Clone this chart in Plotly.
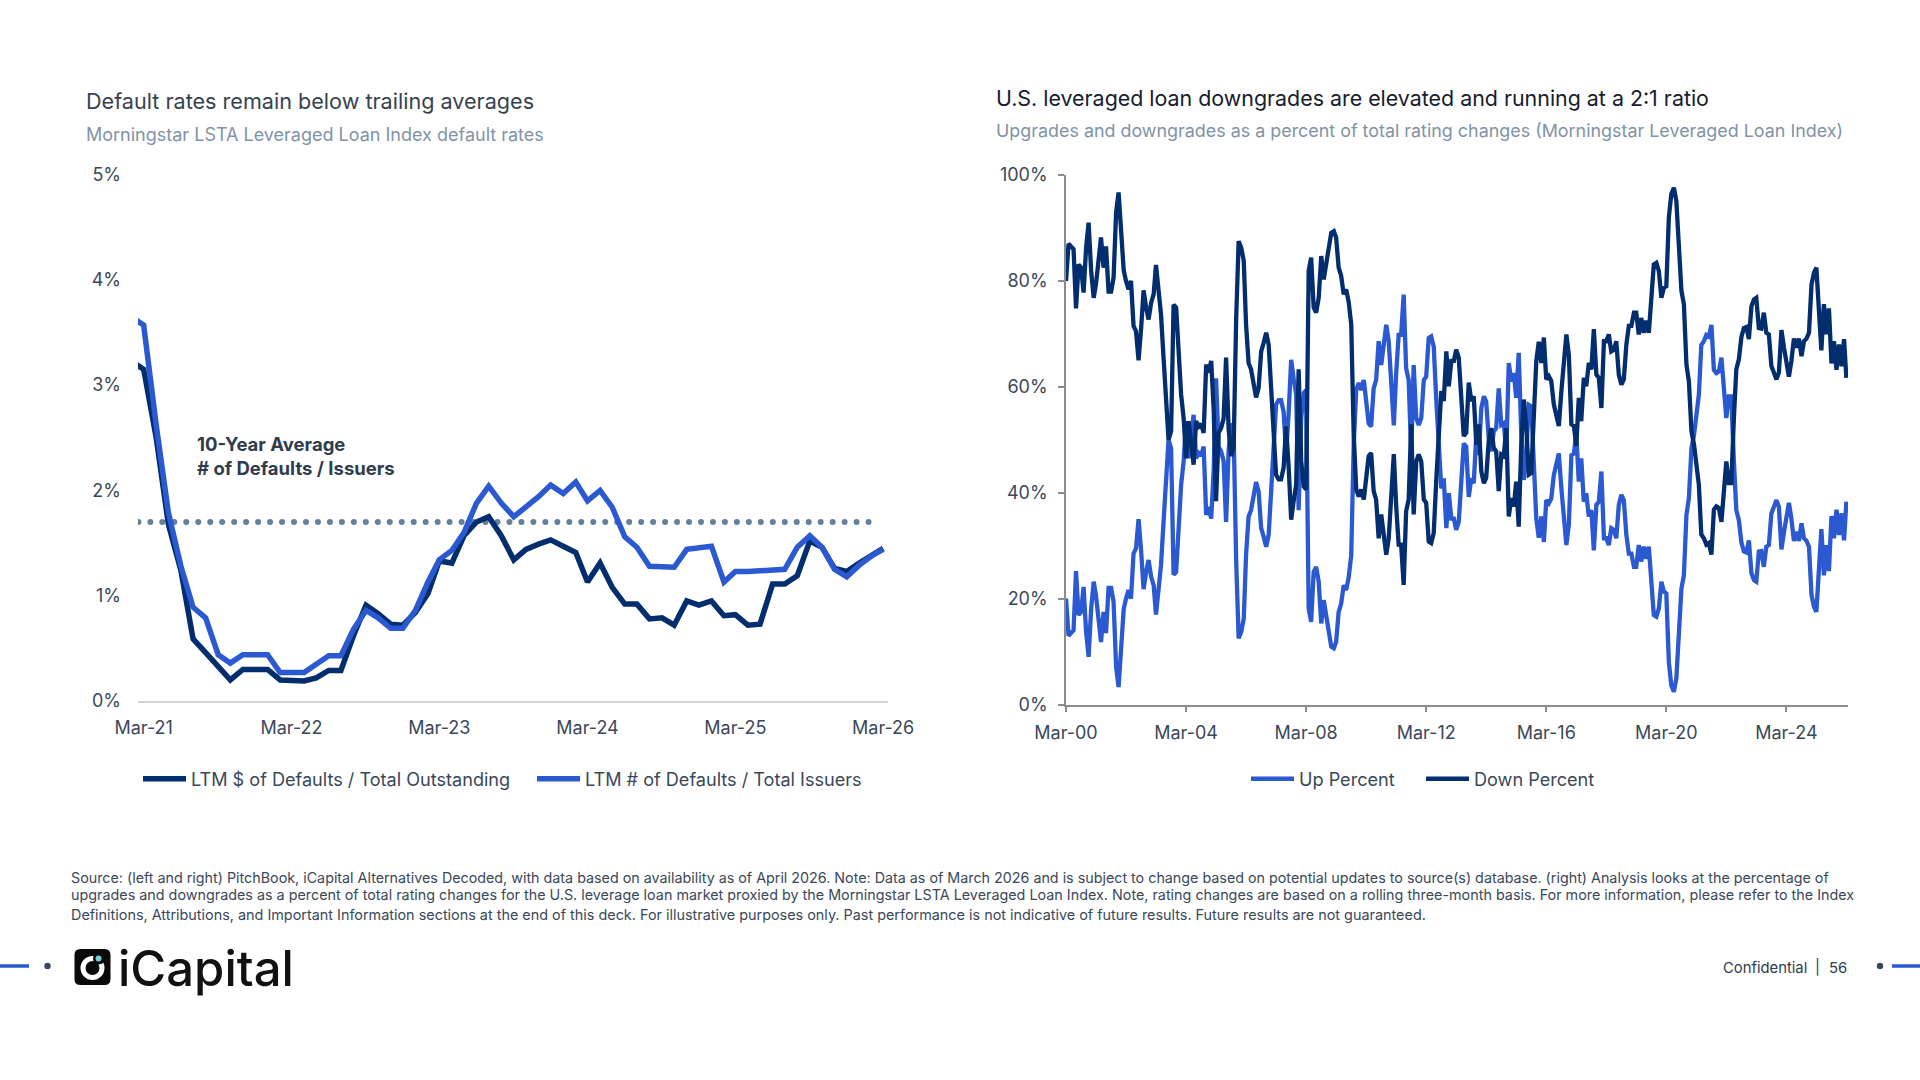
import pandas as pd
import plotly.graph_objects as go

# left chart, Feb-21 to Mar-26 (first point sits just off the axis)
left_dates = pd.date_range("2021-02-01", "2026-03-01", freq="MS")
dollar_defaults = [3.22, 3.15, 2.5, 1.68, 1.24, 0.59, 0.46, 0.33, 0.2, 0.3, 0.3, 0.3, 0.2, 0.19, 0.19, 0.22, 0.29, 0.29,
                   0.62, 0.91, 0.83, 0.73, 0.72, 0.84, 1.02, 1.33, 1.31, 1.57, 1.7, 1.75, 1.57, 1.34, 1.44, 1.49, 1.53,
                   1.47, 1.41, 1.13, 1.31, 1.08, 0.92, 0.92, 0.78, 0.79, 0.72, 0.95, 0.91, 0.95, 0.81, 0.82, 0.72, 0.73,
                   1.11, 1.11, 1.19, 1.52, 1.46, 1.26, 1.23, 1.31, 1.39, 1.45]
issuer_defaults = [3.64, 3.57, 2.62, 1.79, 1.28, 0.89, 0.79, 0.44, 0.36, 0.44, 0.44, 0.44, 0.27, 0.27, 0.27, 0.35, 0.43, 0.43,
                   0.68, 0.86, 0.79, 0.69, 0.69, 0.86, 1.13, 1.34, 1.43, 1.6, 1.88, 2.04, 1.88, 1.75, 1.84, 1.94, 2.05,
                   1.97, 2.08, 1.9, 2.0, 1.84, 1.56, 1.46, 1.28, 1.27, 1.27, 1.44, 1.46, 1.47, 1.13, 1.23, 1.23, 1.24,
                   1.25, 1.25, 1.46, 1.57, 1.46, 1.25, 1.18, 1.29, 1.38, 1.44]
ten_year_avg = 1.7

# right chart, Mar-00 to Mar-26
down_pct = [80, 87, 86.5, 86, 74.8, 83.1, 82.5, 77.8, 86.3, 91,
            81.9, 76.8, 79.4, 83.1, 88.2, 82.5, 86.5, 78, 78, 80.6,
            93, 96.7, 87.5, 82, 80, 78.4, 80, 71.5, 70.5, 65,
            71, 78.2, 75, 72.7, 75.9, 77.5, 83, 78.7, 73.7, 65.5,
            56.7, 50, 51.6, 75.5, 75, 65, 58.5, 54, 46.5, 53.5,
            49, 45.3, 53.5, 52.5, 53, 51.3, 64.2, 62.7, 64.9, 55.4,
            38.4, 51.3, 52.2, 54, 65.5, 52, 46.9, 48.5, 73, 87.5,
            86.3, 83.8, 71.8, 64.5, 63.3, 60.8, 58, 59.8, 66.7, 68.3,
            70.2, 68, 58.5, 49.7, 43.4, 42.5, 42.5, 44.7, 52.5, 45,
            34.9, 38.4, 41.5, 63.3, 46, 41.2, 40.6, 81.9, 84.4, 75,
            74, 76.8, 84.7, 80.3, 83.1, 85.3, 89.1, 89.4, 88.2, 82.5,
            81, 77.5, 78.4, 76, 71.8, 51, 40.6, 39.3, 40.6, 38.7,
            43.4, 46.9, 47.5, 40.3, 38.7, 31.4, 35.9, 31.4, 28.3, 31.4,
            38.4, 47.3, 37.7, 30.2, 30.2, 22.6, 36.5, 38.7, 52.9, 35.9,
            45.9, 47.2, 45.9, 38.7, 38.1, 30.8, 30.5, 32.4, 42.2, 52.3,
            59.2, 57.3, 66.7, 60.1, 64.9, 64.9, 67, 65.5, 57.9, 50.7,
            51.3, 60.8, 57.3, 58.2, 49.1, 52.9, 44, 41.8, 42.8, 49.7,
            52.2, 48.5, 47.8, 40.3, 47.2, 46.9, 52.2, 35.5, 39, 37.4,
            42.1, 33.6, 48.5, 57.6, 52.9, 43.4, 43.7, 52.9, 64.9, 68.5,
            64.5, 69.3, 61.4, 62, 61.1, 56.7, 54.8, 52.6, 59.2, 64.2,
            69.9, 66, 52.9, 52.6, 48.8, 57.9, 53.5, 61.7, 60.1, 64.5,
            63.3, 70.9, 62.3, 61.7, 56, 68.6, 68.6, 69.9, 66.7, 67,
            68.6, 62.3, 60.4, 61.4, 68, 71.5, 71.5, 74, 74, 69.9,
            73, 70.2, 72.5, 70.2, 76.2, 83.1, 83.4, 81.9, 76.8, 78.7,
            79, 92, 96.4, 97.6, 95.1, 87.5, 78.1, 75.6, 64.2, 61,
            51.6, 49.1, 44.7, 41.5, 32.1, 31.4, 30.2, 30.5, 28.3, 36.8,
            37.4, 37.1, 34.5, 41.5, 45.9, 41.8, 41.8, 54, 63.3, 65.2,
            69.4, 71.1, 71.3, 69, 75.2, 76.5, 76.8, 71.1, 71, 74,
            70.2, 69.9, 63.9, 62.7, 61.4, 62.7, 70.7, 67.4, 64.9, 61.9,
            64.9, 69.1, 67.4, 69.1, 65.8, 68.6, 69.1, 70.2, 79.3, 81.6,
            82.5, 74.3, 66.9, 75.6, 69.9, 74.8, 64.4, 68.6, 63.2, 68, 63.9, 69, 61.7]
up_pct = [20, 13, 13.5, 14, 25.2, 16.9, 17.5, 22.2, 13.7, 9,
          18.1, 23.2, 20.6, 16.9, 11.8, 17.5, 13.5, 22, 22, 19.4,
          7, 3.3, 12.5, 18, 20, 21.6, 20, 28.5, 29.5, 35,
          29, 21.8, 25, 27.3, 24.1, 22.5, 17, 21.3, 26.3, 34.5,
          43.3, 50, 48.4, 24.5, 25, 35, 41.5, 46, 53.5, 46.5,
          51, 54.7, 46.5, 47.5, 47, 48.7, 35.8, 37.3, 35.1, 44.6,
          61.6, 48.7, 47.8, 46, 34.5, 48, 53.1, 51.5, 27, 12.5,
          13.7, 16.2, 28.2, 35.5, 36.7, 39.2, 42, 40.2, 33.3, 31.7,
          29.8, 32, 41.5, 50.3, 56.6, 57.5, 57.5, 55.3, 47.5, 55,
          65.1, 61.6, 58.5, 36.7, 54, 58.8, 59.4, 18.1, 15.6, 25,
          26, 23.2, 15.3, 19.7, 16.9, 14.7, 10.9, 10.6, 11.8, 17.5,
          19, 22.5, 21.6, 24, 28.2, 49, 59.4, 60.7, 59.4, 61.3,
          56.6, 53.1, 52.5, 59.7, 61.3, 68.6, 64.1, 68.6, 71.7, 68.6,
          61.6, 52.7, 62.3, 69.8, 69.8, 77.4, 63.5, 61.3, 47.1, 64.1,
          54.1, 52.8, 54.1, 61.3, 61.9, 69.2, 69.5, 67.6, 57.8, 47.7,
          40.8, 42.7, 33.3, 39.9, 35.1, 35.1, 33, 34.5, 42.1, 49.3,
          48.7, 39.2, 42.7, 41.8, 50.9, 47.1, 56, 58.2, 57.2, 50.3,
          47.8, 51.5, 52.2, 59.7, 52.8, 53.1, 47.8, 64.5, 61, 62.6,
          57.9, 66.4, 51.5, 42.4, 47.1, 56.6, 56.3, 47.1, 35.1, 31.5,
          35.5, 30.7, 38.6, 38, 38.9, 43.3, 45.2, 47.4, 40.8, 35.8,
          30.1, 34, 47.1, 47.4, 51.2, 42.1, 46.5, 38.3, 39.9, 35.5,
          36.7, 29.1, 37.7, 38.3, 44, 31.4, 31.4, 30.1, 33.3, 33,
          31.4, 37.7, 39.6, 38.6, 32, 28.5, 28.5, 26, 26, 30.1,
          27, 29.8, 27.5, 29.8, 23.8, 16.9, 16.6, 18.1, 23.2, 21.3,
          21, 8, 3.6, 2.4, 4.9, 12.5, 21.9, 24.4, 35.8, 39,
          48.4, 50.9, 55.3, 58.5, 67.9, 68.6, 69.8, 69.5, 71.7, 63.2,
          62.6, 62.9, 65.5, 58.5, 54.1, 58.2, 58.2, 46, 36.7, 34.8,
          30.6, 28.9, 28.7, 31, 24.8, 23.5, 23.2, 28.9, 29, 26,
          29.8, 30.1, 36.1, 37.3, 38.6, 37.3, 29.3, 32.6, 35.1, 38.1,
          35.1, 30.9, 32.6, 30.9, 34.2, 31.4, 30.9, 29.8, 20.7, 18.4,
          17.5, 25.7, 33.1, 24.4, 30.1, 25.2, 35.6, 31.4, 36.8, 32, 36.1, 31, 38.3]
right_dates = pd.date_range("2000-03-01", periods=len(down_pct), freq="MS")

source_lines = [
    "Source: (left and right) PitchBook, iCapital Alternatives Decoded, with data based on availability as of April 2026. Note: Data as of March 2026 and is subject to change based on potential updates to source(s) database. (right) Analysis looks at the percentage of",
    "upgrades and downgrades as a percent of total rating changes for the U.S. leverage loan market proxied by the Morningstar LSTA Leveraged Loan Index. Note, rating changes are based on a rolling three-month basis. For more information, please refer to the Index",
    "Definitions, Attributions, and Important Information sections at the end of this deck. For illustrative purposes only. Past performance is not indicative of future results. Future results are not guaranteed.",
]

DARK = "#022D6E"
BLUE = "#2A59D1"
DOTS = "#64809B"
TEXT = "#3A4859"
SUB = "#7F93A7"
FONT = "Inter"
W, H = 1920, 1080


# slide is laid out in pixels, plotly wants paper fractions
def px(x):
    return x / W


def py(y):
    return 1 - y / H


def text(x, y, s, size, color=TEXT, anchor="left", bold=False, weight=None):
    font = dict(family=FONT, size=size, color=color)
    if weight:
        font["weight"] = weight
    return dict(x=px(x), y=py(y), xref="paper", yref="paper", text=f"<b>{s}</b>" if bold else s, showarrow=False,
                xanchor=anchor, yanchor="middle", align="left", font=font)


def circle(cx, cy, r, **kw):
    return dict(type="circle", xref="paper", yref="paper", x0=px(cx - r), x1=px(cx + r), y0=py(cy - r), y1=py(cy + r), **kw)


def hline(x0, x1, y, color, width):
    return dict(type="line", xref="paper", yref="paper", x0=px(x0), x1=px(x1), y0=py(y), y1=py(y),
                line=dict(color=color, width=width))


def rounded_box(x0, y0, x1, y1, r):
    def p(x, y):
        return f"{px(x):.5f},{py(y):.5f}"
    return (f"M {p(x0 + r, y0)} L {p(x1 - r, y0)} Q {p(x1, y0)} {p(x1, y0 + r)} L {p(x1, y1 - r)} Q {p(x1, y1)} {p(x1 - r, y1)} "
            f"L {p(x0 + r, y1)} Q {p(x0, y1)} {p(x0, y1 - r)} L {p(x0, y0 + r)} Q {p(x0, y0)} {p(x0 + r, y0)} Z")


fig = go.Figure()
fig.add_trace(go.Scatter(x=pd.date_range("2021-02-16", "2026-01-24", periods=62), y=[ten_year_avg] * 62, mode="markers",
                         marker=dict(color=DOTS, size=6), showlegend=False, xaxis="x", yaxis="y", hoverinfo="skip"))
fig.add_trace(go.Scatter(x=left_dates, y=dollar_defaults, mode="lines", name="LTM $ of Defaults / Total Outstanding",
                         line=dict(color=DARK, width=5.5), xaxis="x", yaxis="y", legend="legend"))
fig.add_trace(go.Scatter(x=left_dates, y=issuer_defaults, mode="lines", name="LTM # of Defaults / Total Issuers",
                         line=dict(color=BLUE, width=5.5), xaxis="x", yaxis="y", legend="legend"))
fig.add_trace(go.Scatter(x=right_dates, y=up_pct, mode="lines", name="Up Percent",
                         line=dict(color=BLUE, width=4.3), xaxis="x2", yaxis="y2", legend="legend2"))
fig.add_trace(go.Scatter(x=right_dates, y=down_pct, mode="lines", name="Down Percent",
                         line=dict(color=DARK, width=4.3), xaxis="x2", yaxis="y2", legend="legend2"))

tick_font = dict(family=FONT, size=18, color=TEXT)
legend_base = dict(orientation="h", xref="paper", yref="paper", xanchor="left", yanchor="middle",
                   bgcolor="rgba(0,0,0,0)", font=dict(family=FONT, size=18.1, color=TEXT))

annotations = [
    text(83.5, 101.5, "Default rates remain below trailing averages", 21.6, "#36434F"),
    text(83.5, 134.5, "Morningstar LSTA Leveraged Loan Index default rates", 18, SUB),
    text(993.5, 98, "U.S. leveraged loan downgrades are elevated and running at a 2:1 ratio", 21.4, "#16202C"),
    text(993.5, 131, "Upgrades and downgrades as a percent of total rating changes (Morningstar Leveraged Loan Index)", 17.9, SUB),
    text(195, 444, "10-Year Average", 18.5, "#2E3C4E", bold=True),
    text(195, 468, "# of Defaults / Issuers", 18.5, "#2E3C4E", bold=True),
    text(69, 877.5, source_lines[0], 14.3),
    text(69, 895, source_lines[1], 14.35),
    text(69, 915, source_lines[2], 14.4),
    text(116, 968, "iCapital", 49, "#111111", weight=500),
    text(1721, 967.5, "Confidential", 14.8, "#2E3C4E"),
    text(1813, 967, "|", 14.8, "#2E3C4E"),
    text(1827, 967.5, "56", 14.8, "#2E3C4E"),
]

# logo mark and the footer rule ends
shapes = [
    dict(type="path", xref="paper", yref="paper", path=rounded_box(74.5, 949, 110.5, 985, 6), fillcolor="#0A0A0A", line=dict(width=0)),
    circle(92.5, 968, 9.5, line=dict(color="white", width=5)),
    circle(99, 958.5, 6, fillcolor="#0A0A0A", line=dict(width=0)),
    circle(98.5, 958.5, 3, fillcolor="#6FD3DC", line=dict(width=0)),
    hline(0, 29, 966, BLUE, 3.5),
    circle(47.5, 966, 3.2, fillcolor="#3A4859", line=dict(width=0)),
    circle(1880, 966, 3.2, fillcolor="#3A4859", line=dict(width=0)),
    hline(1892, 1920, 966, BLUE, 3.5),
]

fig.update_layout(
    width=W, height=H, margin=dict(l=0, r=0, t=0, b=0, autoexpand=False), autosize=False,
    paper_bgcolor="white", plot_bgcolor="white", font=dict(family=FONT, color=TEXT),
    hovermode=False,
    xaxis=dict(domain=[px(138), px(888)], type="date", range=["2021-02-15", "2026-03-13"], tick0="2021-03-01", dtick="M12",
               tickformat="%b-%y", showgrid=False, zeroline=False, showline=True, linecolor="#D4D4D4", linewidth=1.5,
               ticks="", tickfont=tick_font, anchor="y", ticklabelstandoff=10),
    yaxis=dict(domain=[py(701), py(174.5)], range=[0, 5], tickvals=[0, 1, 2, 3, 4, 5], ticktext=["0%", "1%", "2%", "3%", "4%", "5%"],
               showgrid=False, zeroline=False, showline=False, ticks="", tickfont=tick_font, anchor="x", ticklabelstandoff=16),
    xaxis2=dict(domain=[px(1066), px(1848)], type="date", range=["2000-03-01", "2026-03-21"], tick0="2000-03-01", dtick="M48",
                tickformat="%b-%y", showgrid=False, zeroline=False, showline=True, linecolor="#8C8C8C", linewidth=1.5,
                ticks="outside", ticklen=6, tickcolor="#8C8C8C", tickwidth=1.5, tickfont=tick_font, anchor="y2",
                ticklabelstandoff=5),
    yaxis2=dict(domain=[py(704.5), py(175)], range=[0, 100], tickvals=[0, 20, 40, 60, 80, 100],
                ticktext=["0%", "20%", "40%", "60%", "80%", "100%"], showgrid=False, zeroline=False, showline=True,
                linecolor="#8C8C8C", linewidth=1.5, ticks="outside", ticklen=6, tickcolor="#8C8C8C", tickwidth=1.5,
                tickfont=tick_font, anchor="x2", ticklabelstandoff=7),
    legend=dict(legend_base, x=px(138), y=py(779), itemwidth=43, entrywidth=336, entrywidthmode="pixels"),
    legend2=dict(legend_base, x=px(1246), y=py(779), itemwidth=43, entrywidth=117, entrywidthmode="pixels"),
    annotations=annotations, shapes=shapes,
)

# body margin would push the slide 8px off the window
fig.write_html("out.html", post_script="document.body.style.margin='0';", config={"displayModeBar": False})
